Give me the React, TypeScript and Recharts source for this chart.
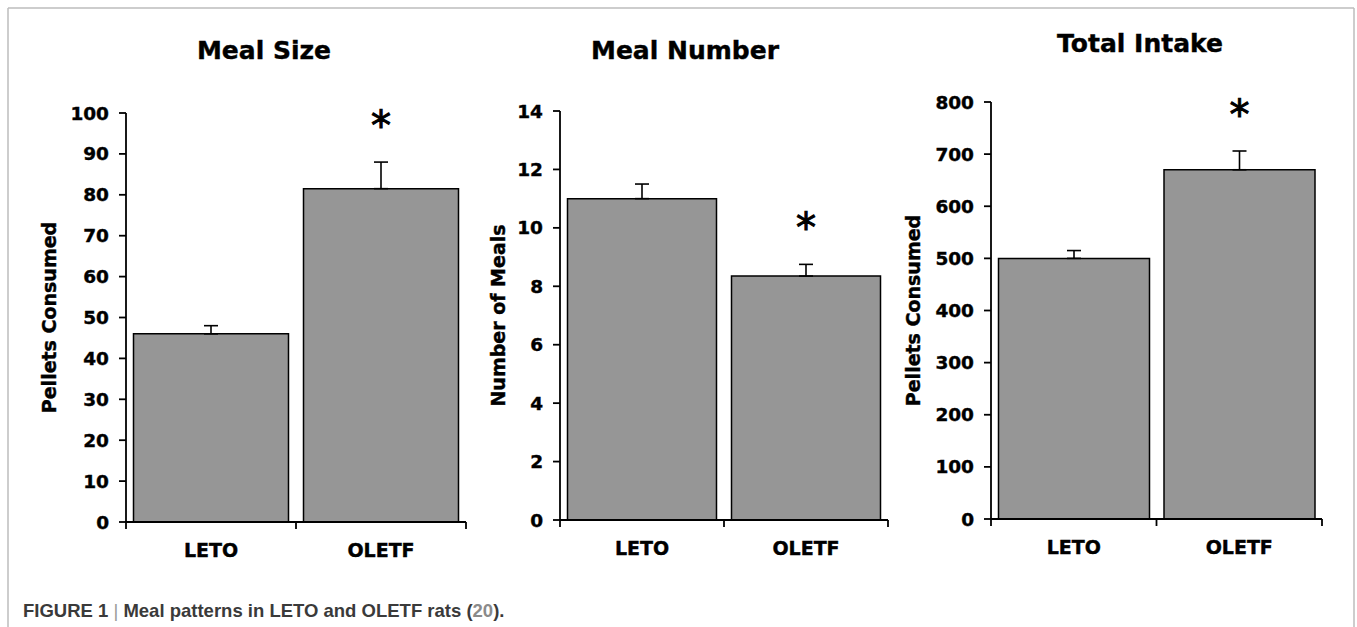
import React from "react";
import { BarChart, Bar, XAxis, YAxis, ErrorBar, LabelList } from "recharts";

// groups and values
const groups = ["LETO", "OLETF"];
const significant = [false, true];

const mealSize = [46, 81.5];
const mealSizeErr = [2, 6.5];
const mealSizeTicks = [0, 10, 20, 30, 40, 50, 60, 70, 80, 90, 100];

const mealNumber = [11, 8.35];
const mealNumberErr = [0.5, 0.4];
const mealNumberTicks = [0, 2, 4, 6, 8, 10, 12, 14];

const totalIntake = [500, 670];
const totalIntakeErr = [15, 36];
const totalIntakeTicks = [0, 100, 200, 300, 400, 500, 600, 700, 800];

const FONT = "'DejaVu Sans', Verdana, sans-serif";
const CAPTION_FONT = "'Liberation Sans', Arial, sans-serif";
const CHART_H = 600;
const X_AXIS_H = 40;
const RIGHT_PAD = 20;

type PanelProps = {
  yLabel: string;
  values: number[];
  errs: number[];
  ticks: number[];
  left: number;
  axisW: number;
  plotW: number;
  plotTop: number;
  plotH: number;
  labelX: number;
};

function Panel(p: PanelProps) {
  const data = groups.map((g, i) => ({
    group: g,
    value: p.values[i],
    err: p.errs[i],
    sig: significant[i],
  }));
  const width = p.axisW + p.plotW + RIGHT_PAD;
  const halfBand = p.plotW / (2 * groups.length);

  const renderTick = (props: any) => {
    const { x, y, payload, index } = props;
    return (
      <g>
        {index === 0 && (
          <line x1={x - halfBand} x2={x - halfBand} y1={y} y2={y + 7} stroke="#000" strokeWidth={1.8} />
        )}
        <line x1={x + halfBand} x2={x + halfBand} y1={y} y2={y + 7} stroke="#000" strokeWidth={1.8} />
        <text
          x={x}
          y={y + 21}
          dy="0.72em"
          textAnchor="middle"
          fontFamily={FONT}
          fontWeight="bold"
          fontSize={19}
          fill="#000"
          stroke="#000"
          strokeWidth={0.4}
        >
          {payload.value}
        </text>
      </g>
    );
  };

  const renderStar = (props: any) => {
    const { x, y, width: w, height, index } = props;
    const d = data[index];
    if (!d || !d.sig) return null;
    const errTop = y - (d.err / d.value) * Math.abs(height);
    return (
      <text
        x={x + w / 2}
        y={errTop - 22}
        textAnchor="middle"
        fontFamily={FONT}
        fontSize={40}
        fill="#000"
        stroke="#000"
        strokeWidth={1}
      >
        *
      </text>
    );
  };

  return (
    <div style={{ position: "absolute", left: p.left, top: 0 }}>
      <BarChart
        width={width}
        height={CHART_H}
        data={data}
        margin={{
          top: p.plotTop,
          right: RIGHT_PAD,
          left: 0,
          bottom: CHART_H - p.plotTop - p.plotH - X_AXIS_H,
        }}
        barCategoryGap={7.5}
      >
        <XAxis
          dataKey="group"
          height={X_AXIS_H}
          axisLine={{ stroke: "#000", strokeWidth: 1.8 }}
          tickLine={false}
          tickSize={0}
          tickMargin={0}
          tick={renderTick}
          interval={0}
        />
        <YAxis
          width={p.axisW}
          domain={[p.ticks[0], p.ticks[p.ticks.length - 1]]}
          ticks={p.ticks}
          interval={0}
          allowDataOverflow
          axisLine={{ stroke: "#000", strokeWidth: 1.8 }}
          tickLine={{ stroke: "#000", strokeWidth: 1.8 }}
          tickSize={7}
          tickMargin={10}
          tick={{ fill: "#000", stroke: "#000", strokeWidth: 0.4, fontSize: 18.5, fontWeight: "bold", fontFamily: FONT }}
          label={{
            value: p.yLabel,
            angle: -90,
            position: "insideLeft",
            offset: p.labelX - p.left,
            style: {
              textAnchor: "middle",
              fill: "#000",
              stroke: "#000",
              strokeWidth: 0.4,
              fontSize: 19,
              fontWeight: "bold",
              fontFamily: FONT,
            },
          }}
        />
        <Bar dataKey="value" fill="#969696" stroke="#000" strokeWidth={1.5} isAnimationActive={false}>
          <ErrorBar
            dataKey={(d: any) => [0, d.err]}
            width={7}
            stroke="#000"
            strokeWidth={1.6}
            direction="y"
            isAnimationActive={false}
          />
          <LabelList dataKey="value" content={renderStar} />
        </Bar>
      </BarChart>
    </div>
  );
}

export default function App() {
  return (
    <div style={{ position: "absolute", left: 0, top: 0, width: 1357, height: 627, background: "#fff" }}>
      <svg width={1357} height={627} style={{ position: "absolute", left: 0, top: 0 }}>
        <line x1={8} y1={8} x2={1354} y2={8} stroke="#bdbdbd" strokeWidth={1.5} />
        <line x1={8} y1={8} x2={8} y2={627} stroke="#bdbdbd" strokeWidth={1.5} />
        <line x1={1354} y1={8} x2={1354} y2={627} stroke="#bdbdbd" strokeWidth={1.5} />
        <g fontFamily={FONT} fontWeight="bold" fontSize={25} fill="#000" stroke="#000" strokeWidth={0.4} textAnchor="middle">
          <text x={264} y={59}>Meal Size</text>
          <text x={685} y={59}>Meal Number</text>
          <text x={1140} y={52}>Total Intake</text>
        </g>
        <text x={23} y={617} fontFamily={CAPTION_FONT} fontWeight="bold" fontSize={18.5} fill="#3a3a3a">
          FIGURE 1 <tspan fontWeight="normal" fill="#9a9a9a">|</tspan> Meal patterns in LETO and OLETF rats (
          <tspan fill="#8a8a8a">20</tspan>).
        </text>
      </svg>
      <Panel
        yLabel="Pellets Consumed"
        values={mealSize}
        errs={mealSizeErr}
        ticks={mealSizeTicks}
        left={20}
        axisW={106}
        plotW={340}
        plotTop={113}
        plotH={409}
        labelX={49}
      />
      <Panel
        yLabel="Number of Meals"
        values={mealNumber}
        errs={mealNumberErr}
        ticks={mealNumberTicks}
        left={470}
        axisW={90}
        plotW={328}
        plotTop={111}
        plotH={409}
        labelX={498}
      />
      <Panel
        yLabel="Pellets Consumed"
        values={totalIntake}
        errs={totalIntakeErr}
        ticks={totalIntakeTicks}
        left={900}
        axisW={91}
        plotW={331}
        plotTop={102}
        plotH={417}
        labelX={913}
      />
    </div>
  );
}
